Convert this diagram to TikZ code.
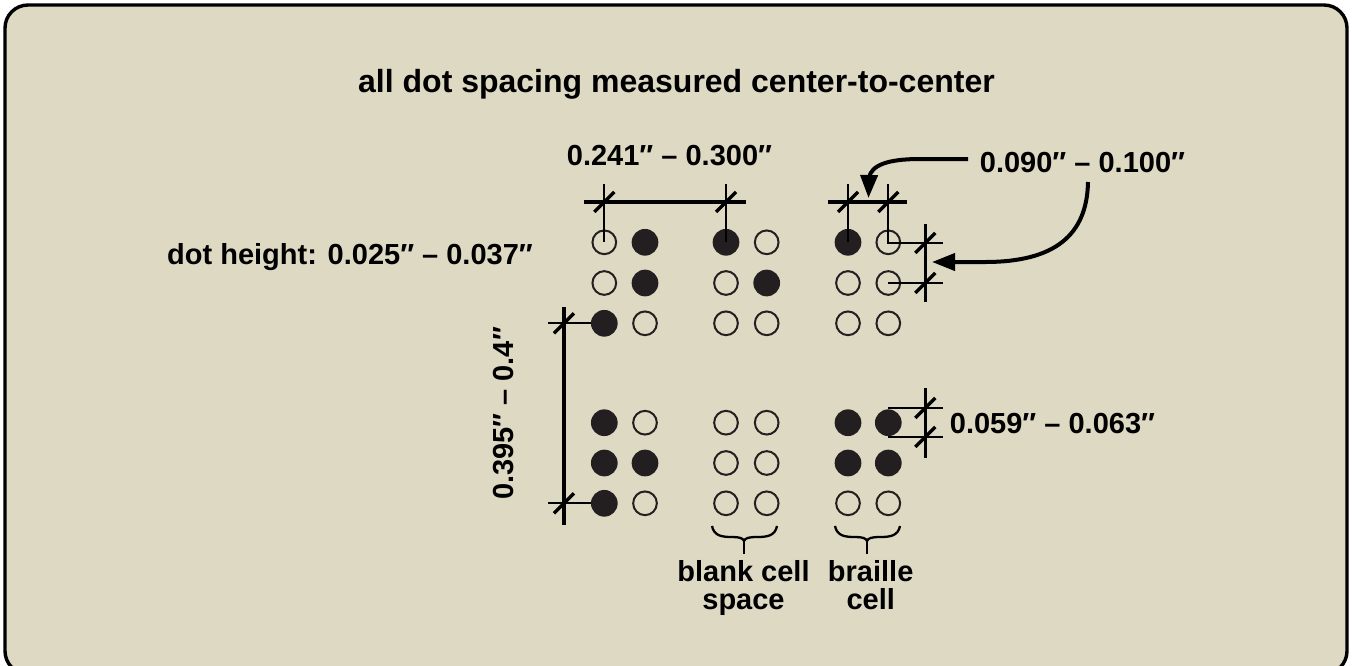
\documentclass[tikz,border=0pt]{standalone}
\usepackage{fontspec}
\setmainfont{Liberation Sans}
\usetikzlibrary{arrows.meta}
\definecolor{panel}{HTML}{DDD9C3}
\definecolor{dotfill}{HTML}{231F20}
\tikzset{
  x=1pt,y=-1pt,
  lab/.style={font=\bfseries\fontsize{29}{28.5}\selectfont,text=black,inner sep=0pt,align=center},
  titlelab/.style={font=\bfseries\fontsize{32}{36}\selectfont,text=black,inner sep=0pt},
  full/.style={circle,fill=dotfill,minimum size=26.7pt,inner sep=0pt,draw=none},
  hollow/.style={circle,draw=dotfill,line width=2pt,minimum size=23.7pt,inner sep=0pt},
  dimthin/.style={line width=2.3pt,draw=black},
  dimmid/.style={line width=3.3pt,draw=black},
  dimthick/.style={line width=4pt,draw=black},
  callout/.style={line width=4pt,draw=black,-{Triangle[length=23pt,width=17pt]}},
}
\newcommand{\slashmark}[1]{\draw[line width=3.4pt] ([shift={(-10,10)}]#1) -- ([shift={(10,-10)}]#1);}
\begin{document}
\begin{tikzpicture}
\useasboundingbox (0,0) rectangle (1352,665);
\fill[white] (0,0) rectangle (1352,665);
\begin{scope}
\clip (0,0) rectangle (1352,665);
\draw[line width=3.4pt,fill=panel,rounded corners=23pt] (5,5) rectangle (1347,674);
\end{scope}
\node[titlelab] (title) at (676.5,84) {all dot spacing measured center-to-center};
\node[lab] (t1) at (669.5,156) {0.241″ – 0.300″};
\node[lab] (t2) at (1082.5,163) {0.090″ – 0.100″};
\node[lab] (t3) at (350,257) {dot height: 0.025″ – 0.037″};
\node[lab] (t4) at (1052.5,424) {0.059″ – 0.063″};
\node[lab,rotate=90] (t5) at (504,413.5) {0.395″ – 0.4″};
\node[lab] (t6) at (743.5,588) {blank cell\\space};
\node[lab] (t7) at (870.7,585) {braille\\cell};
% dots
\foreach \n/\x/\y/\s in {
 a/604.3/242.3/hollow,b/645/242.3/full,c/726/242.3/full,d/766.7/242.3/hollow,e/848/242.3/full,f/888.3/242.3/hollow,
 g/604.3/283/hollow,h/645/283/full,i/726/283/hollow,j/766.7/283/full,k/848/283/hollow,l/888.3/283/hollow,
 m/604.3/323.3/full,n/645/323.3/hollow,o/726/323.3/hollow,p/766.7/323.3/hollow,q/848/323.3/hollow,r/888.3/323.3/hollow,
 A/604.3/422.7/full,B/645/422.7/hollow,C/726/422.7/hollow,D/766.7/422.7/hollow,E/848/422.7/full,F/888.3/422.7/full,
 G/604.3/463/full,H/645/463/full,I/726/463/hollow,J/766.7/463/hollow,K/848/463/full,L/888.3/463/full,
 M/604.3/503.3/full,N/645/503.3/hollow,O/726/503.3/hollow,P/766.7/503.3/hollow,Q/848/503.3/hollow,R/888.3/503.3/hollow}
 {\node[\s] (\n) at (\x,\y) {};}
% top-left dimension
\coordinate (h1l) at (584,202); \coordinate (h1r) at (746,202);
\draw[dimmid] (h1l) -- (h1r);
\draw[dimthin] (604.3,184) coordinate (v1) -- (a.center);
\draw[dimthin] (726,184) coordinate (v2) -- (c.center);
\coordinate (s1) at (604.3,202); \coordinate (s2) at (726,202);
\slashmark{s1}\slashmark{s2}
% top-right dimension
\coordinate (h2l) at (828,202); \coordinate (h2r) at (907,202);
\draw[dimmid] (h2l) -- (h2r);
\draw[dimthin] (848,184) -- (e.center);
\coordinate (c3) at (888.3,184); \coordinate (e3) at (943,243);
\draw[dimthin] (c3) -- (f.center) -- (e3 -| f.center) -- (e3);
\coordinate (s3) at (848,202); \coordinate (s4) at (888.3,202);
\slashmark{s3}\slashmark{s4}
% right dimension
\coordinate (v3t) at (925.3,224); \coordinate (v3b) at (925.3,302);
\draw[dimmid] (v3t) -- (v3b);
\coordinate (e4) at (943,283);
\draw[dimthin] (l.center) -- (e4);
\coordinate (s5) at (925.3,243); \coordinate (s6) at (925.3,283);
\slashmark{s5}\slashmark{s6}
% left dimension
\coordinate (v4t) at (564,307); \coordinate (v4b) at (564,525);
\draw[dimthick] (v4t) -- (v4b);
\coordinate (e5) at (548,323.3); \coordinate (e6) at (548,503.3);
\draw[dimthin] (e5) -- (m.west);
\draw[dimthin] (e6) -- (M.west);
\coordinate (s7) at (564,323.3); \coordinate (s8) at (564,503.3);
\slashmark{s7}\slashmark{s8}
% dot height
\coordinate (v5t) at (925.3,388); \coordinate (v5b) at (925.3,458);
\draw[dimmid] (v5t) -- (v5b);
\coordinate (a1) at (888,408); \coordinate (a2) at (943,408);
\coordinate (b1) at (888,437); \coordinate (b2) at (943,437);
\draw[dimthin] (a1) -- (a2);
\draw[dimthin] (b1) -- (b2);
\coordinate (s9) at (925.3,408); \coordinate (s10) at (925.3,437);
\slashmark{s9}\slashmark{s10}
% braces
\draw[dimthin] (712,526) .. controls (714,536) and (722,537) .. (732,537) .. controls (739,537) and (743,538) .. (744,541) .. controls (745,538) and (749,537) .. (757,537) .. controls (767,537) and (775,536) .. (777,526);
\draw[dimthin] (744,540) -- (744,554);
\draw[dimthin] (835,526) .. controls (837,536) and (845,537) .. (855,537) .. controls (862,537) and (866,538) .. (867,541) .. controls (868,538) and (872,537) .. (880,537) .. controls (890,537) and (898,536) .. (900,526);
\draw[dimthin] (867,540) -- (867,554);
% callouts
\coordinate (c1s) at (968,159); \coordinate (c1t) at (868.5,198);
\draw[callout] (c1s) -- (920,159) .. controls (888,159) and (871,165) .. (869,178) -- (c1t);
\coordinate (c2s) at (1088,182); \coordinate (c2t) at (932,262);
\draw[callout] (c2s) .. controls (1087,235) and (1055,262) .. (985,262) -- (c2t);
\end{tikzpicture}
\end{document}
